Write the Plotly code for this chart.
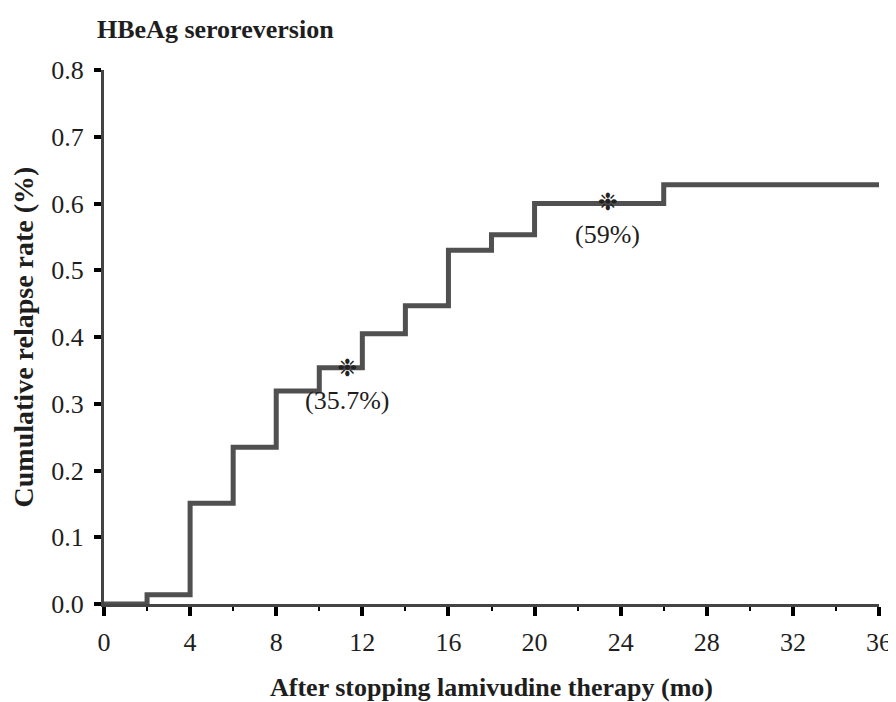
import plotly.graph_objects as go

# Step data (months after stopping, cumulative relapse rate)
months = [0, 2, 4, 6, 8, 10, 12, 14, 16, 18, 20, 26, 36]
rates = [0.0, 0.014, 0.151, 0.235, 0.319, 0.354, 0.405, 0.447, 0.530, 0.553, 0.600, 0.628, 0.628]

# Marked points (asterisks) and their labels
mark_months = [11.3, 23.4]
mark_rates = [0.350, 0.600]
mark_labels = ["(35.7%)", "(59%)"]

x_ticks = [0, 4, 8, 12, 16, 20, 24, 28, 32, 36]
y_ticks = [0.0, 0.1, 0.2, 0.3, 0.4, 0.5, 0.6, 0.7, 0.8]

SERIF = "Liberation Serif, Times New Roman, serif"
TXT = "#1e1e1e"

fig = go.Figure()

fig.add_trace(go.Scatter(
    x=months, y=rates, mode="lines",
    line=dict(shape="hv", color="#505050", width=5),
    hoverinfo="skip", showlegend=False, cliponaxis=False,
))

fig.add_trace(go.Scatter(
    x=mark_months, y=mark_rates, mode="text",
    text=["❉"] * len(mark_months),
    textfont=dict(family="DejaVu Sans", size=24, color="#222222"),
    textposition="middle center",
    hoverinfo="skip", showlegend=False, cliponaxis=False,
))

for mx, my, lab in zip(mark_months, mark_rates, mark_labels):
    fig.add_annotation(
        x=mx, y=my, text=lab, showarrow=False,
        xanchor="center", yanchor="top", yshift=-14,
        font=dict(family=SERIF, size=26, color=TXT),
    )

fig.add_annotation(
    xref="paper", yref="paper", x=-0.0116, y=1.075,
    xanchor="left", yanchor="middle",
    text="<b>HBeAg seroreversion</b>", showarrow=False,
    font=dict(family=SERIF, size=26, color=TXT),
)

fig.update_xaxes(
    range=[0, 36], tickvals=x_ticks, ticktext=[str(v) for v in x_ticks],
    showgrid=False, zeroline=False,
    showline=True, linecolor="#444444", linewidth=3,
    ticks="outside", ticklen=9, tickwidth=4, tickcolor="black",
    ticklabelstandoff=4,
    minor=dict(dtick=2, ticks="outside", ticklen=4, tickwidth=2, tickcolor="black", showgrid=False),
    tickfont=dict(family=SERIF, size=26, color=TXT),
    title=dict(text="<b>After stopping lamivudine therapy (mo)</b>",
               font=dict(family=SERIF, size=26, color=TXT), standoff=22),
)
fig.update_yaxes(
    range=[0, 0.8], tickvals=y_ticks, ticktext=[f"{v:.1f}" for v in y_ticks],
    showgrid=False, zeroline=False,
    showline=True, linecolor="#444444", linewidth=3,
    ticks="outside", ticklen=7, tickwidth=4, tickcolor="black",
    ticklabelstandoff=5,
    tickfont=dict(family=SERIF, size=26, color=TXT),
    title=dict(text="<b>Cumulative relapse rate (%)</b>",
               font=dict(family=SERIF, size=28, color=TXT), standoff=21),
)

fig.update_layout(
    width=888, height=694,
    margin=dict(l=96, r=17, t=62, b=98, autoexpand=False),
    paper_bgcolor="white", plot_bgcolor="white",
)

fig.write_html("out.html")
